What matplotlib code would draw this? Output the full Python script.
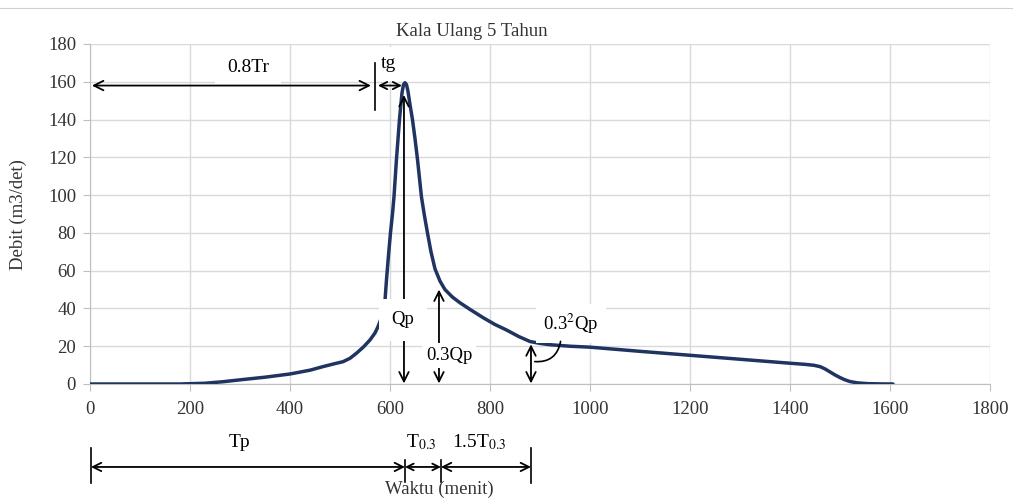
"""Hidrograf satuan sintetis Nakayasu, kala ulang 5 tahun."""

import matplotlib

matplotlib.use("Agg")
import matplotlib.pyplot as plt
from matplotlib.lines import Line2D

# waktu (menit) dan debit (m3/det)
waktu = [0, 100, 180, 230, 266, 300, 350, 400, 440, 466, 490, 506, 520,
         533, 547, 560, 570, 576, 582, 587, 590, 593, 597, 601, 605, 608,
         613, 619, 624, 627, 630, 633, 636, 640, 645, 650, 655, 663, 669,
         675, 682, 690, 700, 710, 725, 740, 760, 787, 810, 833, 857, 880,
         900, 920, 960, 1000, 1100, 1200, 1300, 1400, 1430, 1448, 1460,
         1470, 1480, 1490, 1500, 1510, 1520, 1535, 1555, 1580, 1606]
debit = [0, 0, 0, 0.4, 1.2, 2.2, 3.6, 5.3, 7.3, 9.2, 10.8, 11.8, 13.6,
         16.3, 19.6, 23.3, 27, 30.3, 34.5, 39.2, 44, 55, 68, 80, 90, 99,
         119, 140, 154, 158.5, 159.5, 158.5, 155, 148, 140, 130, 119,
         99, 89, 80, 70, 61, 54.5, 50, 46, 43, 39.5, 35, 31.5, 28.6, 25.2,
         22.5, 21.5, 20.8, 20, 19.5, 17.3, 15.2, 13.1, 11, 10.4, 9.9, 9.2,
         8, 6.4, 4.8, 3.4, 2.2, 1.3, 0.6, 0.2, 0.05, 0]

x_ticks = [0, 200, 400, 600, 800, 1000, 1200, 1400, 1600, 1800]
y_ticks = [0, 20, 40, 60, 80, 100, 120, 140, 160, 180]

# titik-titik parameter Nakayasu (menit / m3/det)
t_08tr = 562
t_bar = 570
t_tg = (576, 624)
t_p = 628
t_03 = 698
t_032 = 882
q_p = 153
q_03 = 50
q_032 = 21

plt.rcParams["font.family"] = ["Liberation Serif", "DejaVu Serif"]
plt.rcParams["mathtext.fontset"] = "stix"

fig = plt.figure(figsize=(10.13, 5.0), dpi=100)
ax = fig.add_axes([0.0888, 0.232, 0.8885, 0.68])

ax.plot(waktu, debit, color="#1f3461", lw=2.5, zorder=3,
        solid_joinstyle="round", solid_capstyle="round")

ax.set_xlim(0, 1800)
ax.set_ylim(0, 180)
ax.set_xticks(x_ticks)
ax.set_yticks(y_ticks)
ax.grid(True, color="#d9d9d9", lw=1.0)
ax.set_axisbelow(True)
for s in ("top", "right"):
    ax.spines[s].set_visible(False)
for s in ("left", "bottom"):
    ax.spines[s].set_color("#bfbfbf")
ax.tick_params(axis="both", colors="#bfbfbf", labelcolor="#333333",
               labelsize=13.5, length=5)
ax.tick_params(axis="x", pad=7)
ax.tick_params(axis="y", pad=5)

arrow = dict(arrowstyle="<->", color="black", lw=1.3, mutation_scale=17,
             shrinkA=0, shrinkB=0)
box = dict(facecolor="white", edgecolor="none")

# 0.8Tr dan tg
ax.text(316, 163, "0.8Tr", ha="center", va="bottom", fontsize=14,
        bbox=dict(box, pad=9), zorder=4)
ax.text(597, 165, "tg", ha="center", va="bottom", fontsize=14,
        bbox=dict(box, pad=6), zorder=4)
ax.annotate("", xy=(4, 158), xytext=(t_08tr, 158), arrowprops=arrow, zorder=5)
ax.plot([t_bar, t_bar], [145, 170], color="black", lw=1.2, zorder=5)
ax.annotate("", xy=(t_tg[0], 158), xytext=(t_tg[1], 158),
            arrowprops=dict(arrow, mutation_scale=13), zorder=5)

# Qp, 0.3Qp, 0.3^2Qp
ax.annotate("", xy=(t_p, 0.3), xytext=(t_p, q_p), arrowprops=arrow, zorder=5)
ax.text(t_p - 2, 34, "Qp", ha="center", va="center", fontsize=13.5,
        bbox=dict(box, pad=9), zorder=6)
ax.annotate("", xy=(t_03, 0.3), xytext=(t_03, q_03), arrowprops=arrow, zorder=5)
ax.text(t_03 + 20, 15, "0.3Qp", ha="center", va="center", fontsize=13.5,
        bbox=dict(box, pad=3), zorder=6)
ax.annotate("", xy=(t_032, 0.3), xytext=(t_032, q_032),
            arrowprops=arrow, zorder=5)
ax.text(962, 32, r"0.3$^{2}$Qp", ha="center", va="center", fontsize=13.5,
        bbox=dict(box, pad=5), zorder=6)
ax.annotate("", xy=(t_032 + 2, 12), xytext=(942, 24),
            arrowprops=dict(arrowstyle="-", color="black", lw=1.2,
                            connectionstyle="arc3,rad=-0.5"), zorder=7)

# Tp, T0.3, 1.5T0.3 di bawah sumbu
tr = ax.get_xaxis_transform()
ya = -0.244
for xb, y0, y1 in [(2, -0.188, -0.291), (t_p + 2, -0.224, -0.288),
                   (t_03 + 4, -0.224, -0.288), (t_032, -0.188, -0.291)]:
    ax.plot([xb, xb], [y0, y1], transform=tr, color="black", lw=1.2,
            clip_on=False)
for a, b in [(2, t_p + 2), (t_p + 2, t_03 + 4), (t_03 + 4, t_032)]:
    ax.annotate("", xy=(a, ya), xytext=(b, ya), xycoords=tr, textcoords=tr,
                arrowprops=dict(arrow, mutation_scale=15 if b - a > 100 else 12),
                annotation_clip=False)
ax.text(300, -0.171, "Tp", transform=tr, ha="center", va="center", fontsize=14)
ax.text(662, -0.171, r"T$_{0.3}$", transform=tr, ha="center", va="center",
        fontsize=14)
ax.text(778, -0.171, r"1.5T$_{0.3}$", transform=tr, ha="center", va="center",
        fontsize=14)

fig.text(472 / 1013, 1 - 32 / 500, "Kala Ulang 5 Tahun", ha="center",
         va="center", fontsize=13.5, color="#333333")
fig.text(439 / 1013, 1 - 489 / 500, "Waktu (menit)", ha="center",
         va="center", fontsize=13.5, color="#333333")
fig.text(18 / 1013, 1 - 215 / 500, "Debit (m3/det)", ha="center",
         va="center", rotation=90, fontsize=13.5, color="#333333")

fig.add_artist(Line2D([0, 1], [1 - 8 / 500, 1 - 8 / 500], color="#d0d0d0",
                      lw=0.8, transform=fig.transFigure))

fig.savefig("out.png", dpi=100)
